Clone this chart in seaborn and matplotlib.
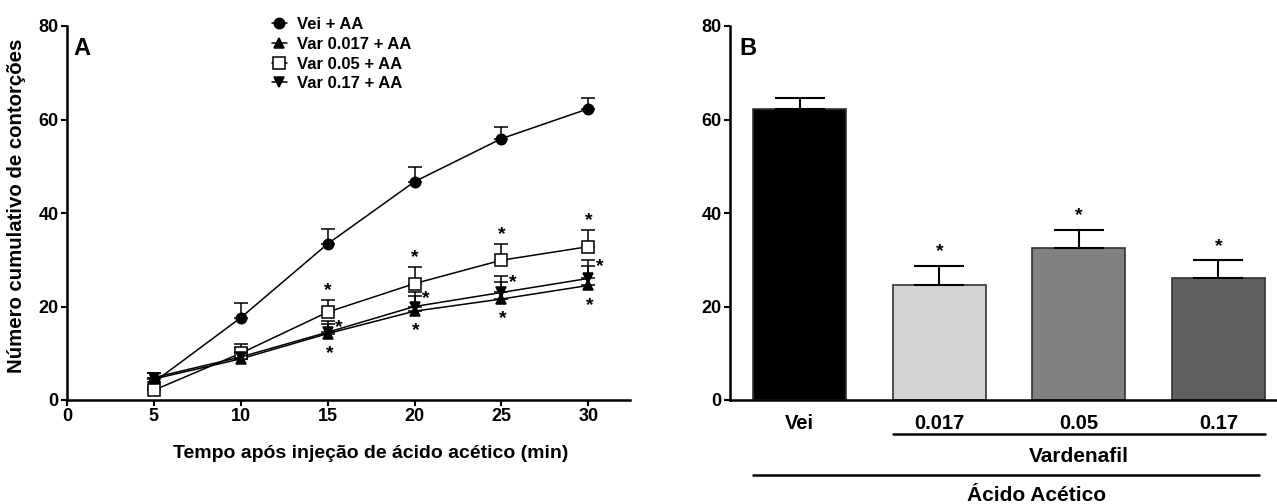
import matplotlib
matplotlib.use("Agg")
import matplotlib.pyplot as plt
import matplotlib.transforms as mtransforms
from matplotlib import font_manager
import seaborn as sns
import pandas as pd
import numpy as np

# ---------------- data ----------------
time_min = [5, 10, 15, 20, 25, 30]
vei_mean = [3.8, 17.6, 33.4, 46.7, 55.9, 62.3]
vei_sem = [1.0, 3.2, 3.2, 3.2, 2.5, 2.4]
var017_mean = [4.5, 8.8, 14.2, 19.0, 21.6, 24.5]
var017_sem = [1.2, 1.5, 2.0, 3.2, 3.7, 4.2]
var05_mean = [2.1, 10.0, 18.8, 24.9, 29.9, 32.8]
var05_sem = [0.5, 1.9, 2.6, 3.5, 3.5, 3.6]
var17_mean = [4.8, 9.2, 14.5, 20.0, 23.0, 26.0]
var17_sem = [1.0, 2.0, 2.3, 3.0, 3.5, 3.9]
series_labels = ["Vei + AA", "Var 0.017 + AA", "Var 0.05 + AA", "Var 0.17 + AA"]

bar_categories = ["Vei", "0.017", "0.05", "0.17"]
bar_mean = [62.2, 24.5, 32.6, 26.0]
bar_sem = [2.4, 4.2, 3.8, 3.9]
bar_colors = ["#000000", "#d4d4d4", "#818181", "#606060"]

y_ticks = [0, 20, 40, 60, 80]
x_ticks = [0, 5, 10, 15, 20, 25, 30]

# ---------------- style ----------------
sns.set_theme(style="ticks")
avail = {f.name for f in font_manager.fontManager.ttflist}
fam = ["Liberation Sans", "DejaVu Sans"]
fam = [f for f in fam if f in avail] or ["DejaVu Sans"]
plt.rcParams["font.family"] = fam
plt.rcParams["font.weight"] = "bold"
plt.rcParams["axes.linewidth"] = 1.8
for k in ["text.color", "axes.labelcolor", "xtick.color", "ytick.color", "axes.edgecolor"]:
    plt.rcParams[k] = "black"

fig = plt.figure(figsize=(12.77, 5.04), dpi=100)
W, H = 1277, 504
axA = fig.add_axes([67 / W, 1 - 400 / H, (630 - 67) / W, (400 - 26) / H])
axB = fig.add_axes([730 / W, 1 - 400 / H, (1277 - 730) / W, (400 - 26) / H])

# ---------------- panel A ----------------
rows = []
for lab, m in zip(series_labels, [vei_mean, var017_mean, var05_mean, var17_mean]):
    for t, v in zip(time_min, m):
        rows.append({"t": t, "v": v, "grupo": lab})
dfA = pd.DataFrame(rows)
markers = {"Vei + AA": "o", "Var 0.017 + AA": "^", "Var 0.05 + AA": "s", "Var 0.17 + AA": "v"}
faces = {"Vei + AA": "black", "Var 0.017 + AA": "black", "Var 0.05 + AA": "white", "Var 0.17 + AA": "black"}
sizes = {"Vei + AA": 7.5, "Var 0.017 + AA": 7.5, "Var 0.05 + AA": 8, "Var 0.17 + AA": 7.5}
sems = {"Vei + AA": vei_sem, "Var 0.017 + AA": var017_sem, "Var 0.05 + AA": var05_sem, "Var 0.17 + AA": var17_sem}
for lab in series_labels:
    d = dfA[dfA.grupo == lab]
    s = sems[lab]
    axA.errorbar(d.t, d.v, yerr=[np.zeros(len(s)), s], fmt="none", ecolor="black",
                 elinewidth=1.1, capsize=5, capthick=1.1, zorder=2)
    sns.lineplot(data=d, x="t", y="v", ax=axA, color="black", lw=1.1,
                 marker=markers[lab], markersize=sizes[lab], markerfacecolor=faces[lab],
                 markeredgecolor="black", markeredgewidth=1.1, label=lab, zorder=3)

star_kw = dict(ha="center", va="center", fontsize=14, fontweight="bold", color="black")
for i, t in enumerate(time_min):
    if t < 15:
        continue
    axA.text(t, var05_mean[i] + var05_sem[i] + 2.0, "*", **star_kw)
    axA.text(t + 0.65, var17_mean[i] + var17_sem[i] - 1.3, "*", **star_kw)
    axA.text(t + 0.1, var017_mean[i] - 4.2, "*", **star_kw)

axA.set_xlim(0, 32.4)
axA.set_ylim(0, 80)
axA.set_xticks(x_ticks)
axA.set_yticks(y_ticks)
axA.tick_params(axis="both", labelsize=13, width=1.5, length=4, pad=2)
for lbl in axA.get_xticklabels() + axA.get_yticklabels():
    lbl.set_fontweight("bold")
sns.despine(ax=axA)
axA.set_xlabel("Tempo após injeção de ácido acético (min)", fontsize=14, fontweight="bold")
axA.xaxis.set_label_coords(0.54, -0.12)
axA.set_ylabel("Número cumulativo de contorções", fontsize=14.7, fontweight="bold")
axA.yaxis.set_label_coords(-0.072, 0.52)
axA.text(0.012, 0.94, "A", transform=axA.transAxes, fontsize=17, fontweight="bold", va="center")
leg = axA.legend(loc="upper left", bbox_to_anchor=((265 - 67) / (630 - 67), 1.041),
                 frameon=False, fontsize=12, handlelength=0.9, handletextpad=0.6,
                 labelspacing=0.28, borderaxespad=0)
for t in leg.get_texts():
    t.set_fontweight("bold")

# ---------------- panel B ----------------
dfB = pd.DataFrame({"grupo": bar_categories, "v": bar_mean})
sns.barplot(data=dfB, x="grupo", y="v", hue="grupo", order=bar_categories,
            palette=dict(zip(bar_categories, bar_colors)), legend=False,
            width=0.665, edgecolor="#333333", linewidth=1.2, errorbar=None, ax=axB)
xpos = np.arange(len(bar_categories))
axB.errorbar(xpos, bar_mean, yerr=[np.zeros(len(bar_sem)), bar_sem], fmt="none",
             ecolor="black", elinewidth=1.5, capsize=18, capthick=1.5, zorder=1)
for i in range(1, len(bar_categories)):
    axB.text(xpos[i], bar_mean[i] + bar_sem[i] + 3.0, "*", **star_kw)

axB.set_xlim(-0.5, 3.42)
axB.set_ylim(0, 80)
axB.set_yticks(y_ticks)
axB.tick_params(axis="y", labelsize=13, width=1.5, length=4, pad=2)
axB.tick_params(axis="x", labelsize=14.5, length=0, pad=10)
for lbl in axB.get_xticklabels() + axB.get_yticklabels():
    lbl.set_fontweight("bold")
axB.set_xlabel("")
axB.set_ylabel("")
sns.despine(ax=axB)
axB.text(0.018, 0.94, "B", transform=axB.transAxes, fontsize=17, fontweight="bold", va="center")

trans = mtransforms.blended_transform_factory(axB.transData, axB.transAxes)
axB.plot([1 - 0.333, 3 + 0.333], [-0.091, -0.091], transform=trans, color="black", lw=1.8, clip_on=False)
axB.text(2.0, -0.152, "Vardenafil", transform=trans, ha="center", va="center", fontsize=15, fontweight="bold")
axB.plot([-0.333, 3.29], [-0.20, -0.20], transform=trans, color="black", lw=1.8, clip_on=False)
axB.text(1.7, -0.255, "Ácido Acético", transform=trans, ha="center", va="center", fontsize=15, fontweight="bold")

fig.savefig("out.png", dpi=100)
